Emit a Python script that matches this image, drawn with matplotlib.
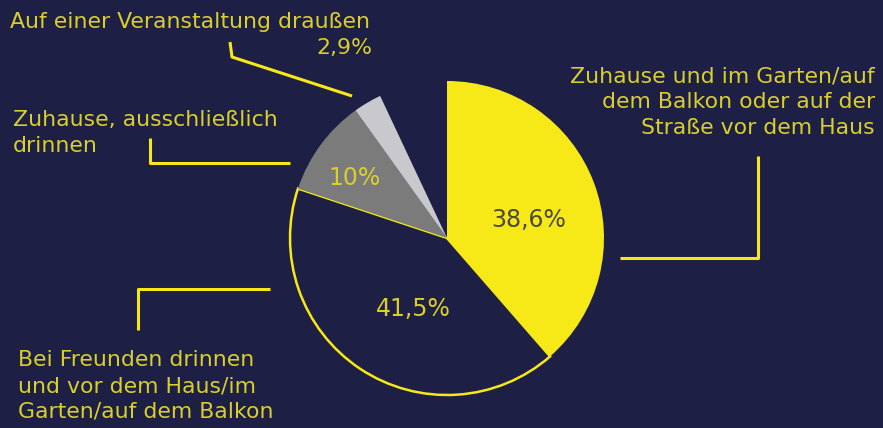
import matplotlib
matplotlib.use("Agg")
import matplotlib.pyplot as plt

# Data
categories = [
    "Zuhause und im Garten/auf\ndem Balkon oder auf der\nStraße vor dem Haus",
    "Bei Freunden drinnen\nund vor dem Haus/im\nGarten/auf dem Balkon",
    "Zuhause, ausschließlich\ndrinnen",
    "Auf einer Veranstaltung draußen",
]
values = [38.6, 41.5, 10.0, 2.9]
value_labels = ["38,6%", "41,5%", "10%", "2,9%"]

BG = "#1e1f45"
YEL = "#f7e817"
TXT = "#d8cf2c"
fills = [YEL, BG, "#7b7b7b", "#c9c9cd"]

plt.rcParams['font.family'] = ['DejaVu Sans']

W, H = 883, 428
fig = plt.figure(figsize=(W / 100, H / 100), dpi=100, facecolor=BG)
ax = fig.add_axes([0, 0, 1, 1])
ax.set_facecolor(BG)

cx, cy, R = 447, H - 238, 157
wedges, _ = ax.pie([v / 100 for v in values], colors=fills, startangle=90,
                   counterclock=False, normalize=False, center=(cx, cy), radius=R,
                   frame=True)
wedges[1].set_edgecolor(YEL)
wedges[1].set_linewidth(1.8)
for w in (wedges[0], wedges[2], wedges[3]):
    w.set_linewidth(0)

ax.set_xlim(0, W)
ax.set_ylim(0, H)
ax.set_aspect('equal')
ax.axis('off')

def Y(y):
    return H - y

fs = 15.8
kw = dict(color=TXT, fontsize=fs, linespacing=1.36)

# value labels in slices
ax.text(529, Y(220), value_labels[0], ha='center', va='center', color="#4d4a3a",
        fontsize=17)
ax.text(413, Y(309), value_labels[1], ha='center', va='center', color=TXT,
        fontsize=17)
ax.text(355, Y(178), value_labels[2], ha='center', va='center', color=TXT,
        fontsize=17)

# category labels
ax.text(875, Y(102), categories[0], ha='right', va='center', **kw)
ax.text(18, Y(386), categories[1], ha='left', va='center', **kw)
ax.text(13, Y(133), categories[2], ha='left', va='center', **kw)
ax.text(10, Y(22), categories[3], ha='left', va='center', **kw)
ax.text(372, Y(48), value_labels[3], ha='right', va='center', **kw)

# leader lines
lw = 2.2
ax.plot([620, 758, 758], [Y(258), Y(258), Y(156)], color=YEL, lw=lw, solid_capstyle='butt')
ax.plot([270, 138, 138], [Y(289), Y(289), Y(330)], color=YEL, lw=lw, solid_capstyle='butt')
ax.plot([150, 150, 290], [Y(138), Y(163), Y(163)], color=YEL, lw=lw, solid_capstyle='butt')
ax.plot([230, 232, 352], [Y(42), Y(57), Y(96)], color=YEL, lw=lw, solid_capstyle='butt')

fig.savefig("out.png", dpi=100, facecolor=BG)
